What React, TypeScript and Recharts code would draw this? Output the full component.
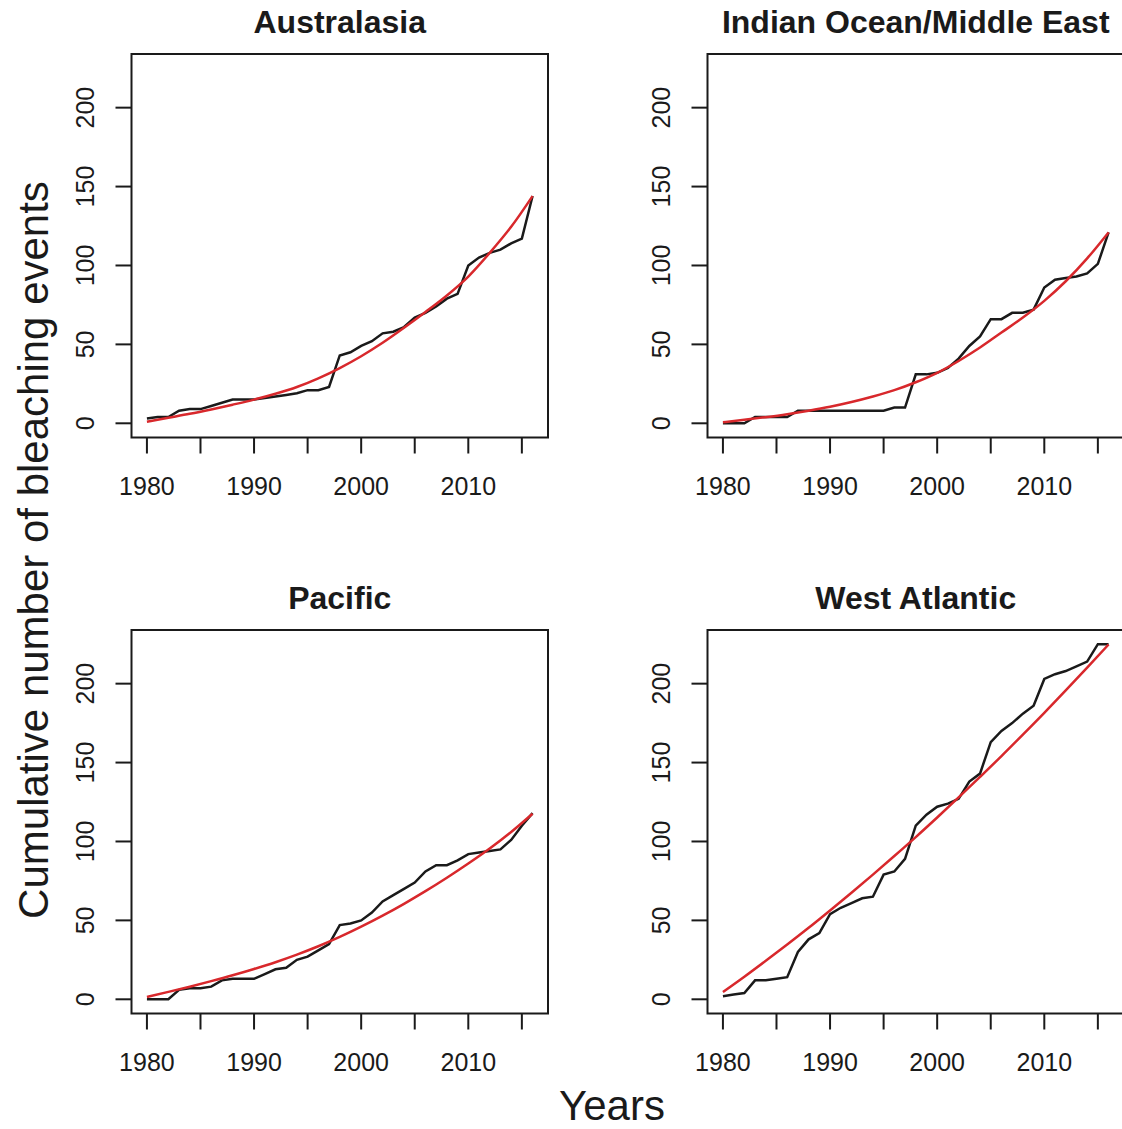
import { LineChart, Line, XAxis, YAxis, ReferenceArea } from 'recharts'

const YEARS = [
  1980, 1981, 1982, 1983, 1984, 1985, 1986, 1987, 1988, 1989, 1990, 1991, 1992,
  1993, 1994, 1995, 1996, 1997, 1998, 1999, 2000, 2001, 2002, 2003, 2004, 2005,
  2006, 2007, 2008, 2009, 2010, 2011, 2012, 2013, 2014, 2015, 2016,
]
const FIT_YEARS = [
  1980, 1982, 1984, 1986, 1988, 1990, 1992, 1994, 1996, 1998, 2000, 2002, 2004,
  2006, 2008, 2010, 2012, 2014, 2016,
]
const X_TICKS = [1980, 1985, 1990, 1995, 2000, 2005, 2010, 2015]
const X_LABELS = [1980, 1990, 2000, 2010]
const Y_TICKS = [0, 50, 100, 150, 200]

const AUS_OBS = [3, 4, 4, 8, 9, 9, 11, 13, 15, 15, 15, 16, 17, 18, 19, 21, 21, 23, 43, 45, 49, 52, 57, 58, 61, 67, 70, 74, 79, 82, 100, 105, 108, 110, 114, 117, 144]
const AUS_FIT = [1, 3.5, 6, 8.8, 11.8, 15, 18.7, 23, 28.5, 35, 42.5, 51, 60.5, 70.5, 81, 93, 108, 124.5, 144]

const IND_OBS = [0, 0, 0, 4, 4, 4, 4, 8, 8, 8, 8, 8, 8, 8, 8, 8, 10, 10, 31, 31, 32, 35, 41, 49, 55, 66, 66, 70, 70, 72, 86, 91, 92, 93, 95, 101, 121]
const IND_FIT = [0.6, 2.2, 3.9, 5.8, 8, 10.5, 13.5, 17, 21, 26, 32, 39.5, 48, 57.5, 67, 77.6, 90, 104.5, 121]

const PAC_OBS = [0, 0, 0, 6, 7, 7, 8, 12, 13, 13, 13, 16, 19, 20, 25, 27, 31, 35, 47, 48, 50, 55, 62, 66, 70, 74, 81, 85, 85, 88, 92, 93, 94, 95, 101, 110, 118]
const PAC_FIT = [1.5, 4.7, 8, 11.5, 15.2, 19.2, 23.5, 28.3, 33.6, 39.5, 46, 53, 60.5, 68.5, 77, 86, 95.5, 106, 117.6]

const WAT_OBS = [2, 3, 4, 12, 12, 13, 14, 30, 38, 42, 54, 58, 61, 64, 65, 79, 81, 89, 110, 117, 122, 124, 127, 138, 143, 163, 170, 175, 181, 186, 203, 206, 208, 211, 214, 225, 225]
const WAT_FIT = [4.6, 14.3, 24.4, 34.7, 45.3, 56.3, 67.5, 79, 90.8, 102.8, 115.2, 127.9, 140.9, 154.1, 167.7, 181.5, 195.7, 210.1, 224.8]

const FONT = '"Liberation Sans", Arial, sans-serif'
const X_DOMAIN: [number, number] = [1978.56, 2017.44]
const Y_DOMAIN: [number, number] = [-9, 234]

// chart box geometry (R-like plot region inside each 576px cell)
const CHART_W = 561
const CHART_H = 575
const MARGIN = { top: 54, right: 13, left: 61.5, bottom: 57.5 }
const STEP = 576

const toRows = (years: number[], values: number[]) =>
  years.map((year, i) => ({ year, value: values[i] }))

function XTick({ x, y, payload }: any) {
  // R drops the labels that would overlap, only the decades stay
  if (!X_LABELS.includes(payload.value)) return <g />
  return (
    <text x={x} y={y} dy={18} textAnchor="middle" fontSize={25} fontFamily={FONT} fill="#1a1a1a">
      {payload.value}
    </text>
  )
}

function YTick({ x, y, payload }: any) {
  return (
    <text
      x={x}
      y={y}
      transform={`rotate(-90 ${x} ${y})`}
      textAnchor="middle"
      fontSize={25}
      fontFamily={FONT}
      fill="#1a1a1a"
    >
      {payload.value}
    </text>
  )
}

interface PanelProps {
  title: string
  observed: number[]
  fitted: number[]
  left: number
  top: number
}

function Panel({ title, observed, fitted, left, top }: PanelProps) {
  const obsRows = toRows(YEARS, observed)
  const fitRows = toRows(FIT_YEARS, fitted)
  return (
    <div style={{ position: 'absolute', left, top, width: CHART_W, height: CHART_H }}>
      <div
        style={{
          position: 'absolute',
          left: 131.5,
          width: 416.5,
          top: 4,
          textAlign: 'center',
          fontFamily: FONT,
          fontWeight: 'bold',
          fontSize: 32,
          lineHeight: '36px',
          color: '#1a1a1a',
          whiteSpace: 'nowrap',
        }}
      >
        {title}
      </div>
      <LineChart width={CHART_W} height={CHART_H} margin={MARGIN}>
        <XAxis
          dataKey="year"
          type="number"
          domain={X_DOMAIN}
          ticks={X_TICKS}
          interval={0}
          allowDataOverflow
          axisLine={false}
          tickLine={{ stroke: '#1a1a1a', strokeWidth: 2 }}
          tickSize={16}
          tickMargin={23}
          height={80}
          tick={<XTick />}
        />
        <YAxis
          type="number"
          domain={Y_DOMAIN}
          ticks={Y_TICKS}
          interval={0}
          allowDataOverflow
          axisLine={false}
          tickLine={{ stroke: '#1a1a1a', strokeWidth: 2 }}
          tickSize={16}
          tickMargin={21.5}
          width={70}
          tick={<YTick />}
        />
        <ReferenceArea
          x1={X_DOMAIN[0]}
          x2={X_DOMAIN[1]}
          y1={Y_DOMAIN[0]}
          y2={Y_DOMAIN[1]}
          fill="none"
          stroke="#1a1a1a"
          strokeWidth={2}
        />
        <Line
          data={obsRows}
          dataKey="value"
          type="linear"
          stroke="#1a1a1a"
          strokeWidth={2.5}
          dot={false}
          isAnimationActive={false}
        />
        <Line
          data={fitRows}
          dataKey="value"
          type="monotone"
          stroke="#d8282c"
          strokeWidth={2.5}
          dot={false}
          isAnimationActive={false}
        />
      </LineChart>
    </div>
  )
}

export default function App() {
  return (
    <div
      style={{
        position: 'absolute',
        left: 0,
        top: 0,
        width: 1122,
        height: 1129,
        overflow: 'hidden',
        background: '#fff',
      }}
    >
      <Panel title="Australasia" observed={AUS_OBS} fitted={AUS_FIT} left={0} top={0} />
      <Panel title="Indian Ocean/Middle East" observed={IND_OBS} fitted={IND_FIT} left={STEP} top={0} />
      <Panel title="Pacific" observed={PAC_OBS} fitted={PAC_FIT} left={0} top={STEP} />
      <Panel title="West Atlantic" observed={WAT_OBS} fitted={WAT_FIT} left={STEP} top={STEP} />
      <svg
        width={1122}
        height={1129}
        style={{ position: 'absolute', left: 0, top: 0, pointerEvents: 'none' }}
      >
        <text
          x={48}
          y={550}
          transform="rotate(-90 48 550)"
          textAnchor="middle"
          fontSize={42}
          fontFamily={FONT}
          fill="#1a1a1a"
        >
          Cumulative number of bleaching events
        </text>
        <text x={612} y={1120} textAnchor="middle" fontSize={42} fontFamily={FONT} fill="#1a1a1a">
          Years
        </text>
      </svg>
    </div>
  )
}
